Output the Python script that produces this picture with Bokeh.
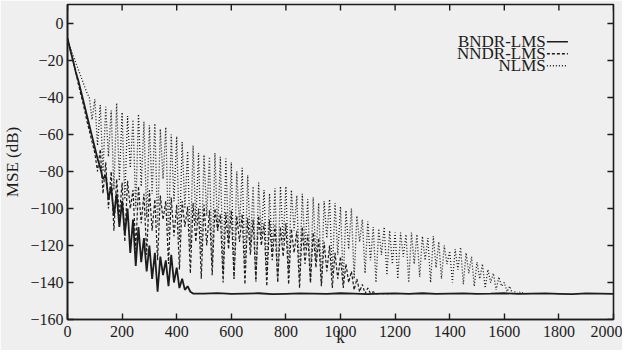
from bokeh.plotting import figure
from bokeh.models import FixedTicker, Range1d
from bokeh.core.properties import value
from bokeh.embed import file_html
from bokeh.resources import INLINE

# ---------------- data ----------------
X_TICKS = [0, 200, 400, 600, 800, 1000, 1200, 1400, 1600, 1800, 2000]
Y_TICKS = [-160, -140, -120, -100, -80, -60, -40, -20, 0]

SERIES_NAMES = ["BNDR-LMS", "NNDR-LMS", "NLMS"]
X_LABEL = "k"
Y_LABEL = "MSE (dB)"

# BNDR-LMS: k = 0..490 step 10, then 500..2000 step 50
BNDR_NOISY = [
    -8, -14, -20, -26, -31, -37, -43, -49, -55, -61,
    -67, -73, -78, -84, -82, -95, -88, -104, -92, -110,
    -96, -114, -100, -124, -106, -131, -110, -129, -116, -134,
    -120, -138, -124, -145, -126, -136, -128, -142, -125, -140,
    -132, -143, -138, -144, -142, -145, -146, -146, -146, -146,
]
BNDR_TAIL = [
    -146, -145.7, -146.2, -146, -145.8, -146.3, -146.1, -145.9, -146, -146.2,
    -145.8, -146, -146.3, -146, -145.9, -146.1, -145.8, -146.2, -146, -145.9,
    -146.1, -146, -145.8, -146.2, -146, -145.9, -146.1, -146.3, -145.9, -146,
    -146.1,
]
BNDR_K = list(range(0, 500, 10)) + list(range(500, 2001, 50))
BNDR_V = BNDR_NOISY + BNDR_TAIL

# NNDR-LMS: k = 0..1190 step 10
NNDR_V = [
    -8, -14, -20, -26, -33, -39, -45, -52, -58, -64,
    -70, -80, -68, -92, -75, -100, -80, -112, -84, -104,
    -86, -118, -85, -100, -90, -122, -88, -108, -92, -125,
    -90, -112, -95, -128, -93, -106, -96, -130, -94, -115,
    -98, -133, -96, -110, -99, -135, -97, -118, -100, -138,
    -98, -120, -101, -136, -100, -112, -103, -140, -102, -122,
    -101, -138, -104, -118, -103, -141, -105, -125, -106, -139,
    -104, -120, -108, -142, -106, -128, -109, -140, -110, -126,
    -108, -141, -111, -124, -112, -143, -110, -130, -114, -140,
    -113, -132, -116, -142, -118, -134, -120, -143, -124, -138,
    -126, -143, -130, -140, -134, -144, -138, -145, -141, -146,
    -143, -146, -145, -146, -146, -146, -146, -146, -146, -146,
]
NNDR_K = list(range(0, 10 * len(NNDR_V), 10))

# NLMS: k = 0..1690 step 10
NLMS_V = [
    -8, -13, -17, -21, -25, -29, -33, -37, -40, -52,
    -41, -66, -44, -80, -45, -72, -47, -90, -43, -85,
    -48, -95, -50, -78, -52, -100, -49, -88, -53, -105,
    -55, -92, -54, -110, -57, -84, -56, -115, -60, -96,
    -61, -118, -64, -100, -69, -122, -66, -108, -70, -125,
    -71, -104, -72, -130, -70, -112, -72, -135, -73, -118,
    -75, -138, -80, -110, -78, -132, -82, -120, -88, -140,
    -86, -115, -90, -136, -92, -124, -89, -140, -88, -118,
    -88, -135, -90, -112, -93, -138, -92, -122, -95, -140,
    -94, -128, -97, -141, -96, -116, -95, -136, -97, -125,
    -99, -140, -101, -122, -100, -138, -104, -118, -106, -135,
    -107, -128, -110, -140, -111, -125, -110, -136, -112, -130,
    -113, -138, -113, -126, -114, -140, -113, -130, -114, -137,
    -115, -128, -116, -140, -115, -132, -118, -138, -120, -130,
    -123, -140, -122, -133, -121, -141, -124, -135, -126, -142,
    -129, -138, -130, -143, -133, -140, -135, -144, -137, -142,
    -140, -145, -142, -146, -145, -146, -145, -146, -146, -146,
]
NLMS_K = list(range(0, 10 * len(NLMS_V), 10))

# ---------------- styling ----------------
BG = "#efefef"
INK = "#1c1c1c"
FONT = "Liberation Serif"
X0, X1 = 0, 2000
Y0, Y1 = -160, 10.3
FRAME_W, FRAME_H = 540, 314

p = figure(
    width=622, height=350,
    output_backend="svg", toolbar_location=None,
    x_range=Range1d(X0, X1), y_range=Range1d(Y0, Y1),
    min_border_left=59, min_border_right=9,
    min_border_top=4, min_border_bottom=31,
    background_fill_color=BG, border_fill_color=BG,
)
p.grid.visible = False
p.outline_line_color = INK
p.outline_line_width = 1.6

for ax, ticks in ((p.xaxis[0], X_TICKS), (p.yaxis[0], Y_TICKS)):
    ax.ticker = FixedTicker(ticks=ticks)
    ax.major_tick_in = 6
    ax.major_tick_out = 0
    ax.minor_tick_line_color = None
    ax.axis_line_color = INK
    ax.axis_line_width = 1.6
    ax.major_tick_line_color = INK
    ax.major_tick_line_width = 1.4
    ax.major_label_text_font = FONT
    ax.major_label_text_color = INK
    ax.major_label_text_font_size = "16px"
    ax.axis_label_text_font = FONT
    ax.axis_label_text_font_style = "normal"
    ax.axis_label_text_color = INK
    ax.axis_label_text_font_size = "17px"

p.xaxis[0].axis_label = X_LABEL
p.xaxis[0].major_label_standoff = 6
p.xaxis[0].axis_label_standoff = -12
p.yaxis[0].axis_label = Y_LABEL
p.yaxis[0].major_label_standoff = 4
p.yaxis[0].axis_label_standoff = 5

# mirrored inward ticks on the top and right frame edges
tick_dx = 6 * (X1 - X0) / FRAME_W
tick_dy = 6 * (Y1 - Y0) / FRAME_H
p.segment(x0=X_TICKS, y0=[Y1] * len(X_TICKS), x1=X_TICKS, y1=[Y1 - tick_dy] * len(X_TICKS),
          line_color=INK, line_width=1.4)
p.segment(x0=[X1] * len(Y_TICKS), y0=Y_TICKS, x1=[X1 - tick_dx] * len(Y_TICKS), y1=Y_TICKS,
          line_color=INK, line_width=1.4)

# ---------------- curves ----------------
p.line(NLMS_K, NLMS_V, line_color=INK, line_width=1.3, line_dash="1 2")
p.line(NNDR_K, NNDR_V, line_color=INK, line_width=1.2, line_dash="3 2")
p.line(BNDR_K, BNDR_V, line_color=INK, line_width=1.8)

# ---------------- legend (label, then line sample) ----------------
LEG_Y = [-9.8, -16.3, -22.8]
LEG_DASH = ["solid", "3 2", "1 2"]
p.text(x=[1752] * 3, y=LEG_Y, text=SERIES_NAMES,
       text_align="right", text_baseline="middle",
       text_font=value(FONT), text_font_size="17px", text_color=INK)
for yy, dash in zip(LEG_Y, LEG_DASH):
    p.line([1756, 1833], [yy, yy], line_color=INK, line_width=1.4, line_dash=dash)

open("out.html", "w").write(file_html(p, INLINE))
